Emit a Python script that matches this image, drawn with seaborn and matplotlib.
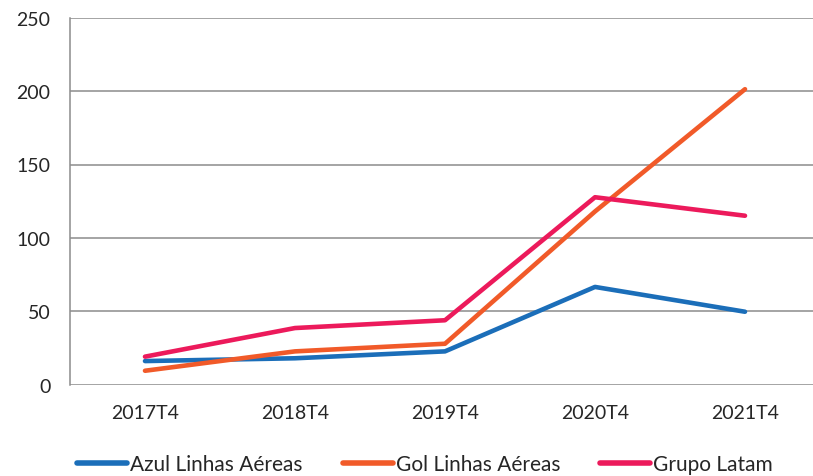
import matplotlib
matplotlib.use("Agg")
import matplotlib.pyplot as plt
import seaborn as sns
import pandas as pd

periods = ["2017T4", "2018T4", "2019T4", "2020T4", "2021T4"]
azul = [16.1, 18.0, 22.7, 66.6, 49.7]
gol = [9.5, 22.7, 27.9, 118.0, 201.3]
latam = [19.1, 38.6, 43.9, 127.7, 115.1]
series_names = ["Azul Linhas Aéreas", "Gol Linhas Aéreas", "Grupo Latam"]
colors = ["#1B6EB9", "#F15A29", "#EC1A5B"]

sns.set_style("white")
plt.rcParams["font.family"] = ["Lato", "DejaVu Sans"]

rows = []
for name, vals in zip(series_names, [azul, gol, latam]):
    for i, (p, v) in enumerate(zip(periods, vals)):
        rows.append({"pos": i, "period": p, "value": v, "series": name})
df = pd.DataFrame(rows)

fig = plt.figure(figsize=(8.13, 4.77), dpi=100)
ax = fig.add_axes([70 / 813, 91.3 / 477, 750 / 813, 367 / 477])

sns.lineplot(data=df, x="pos", y="value", hue="series", hue_order=series_names,
             palette=colors, linewidth=3.3, ax=ax, legend=True)
for ln in ax.get_lines():
    ln.set_solid_capstyle("round")

ax.set_xlim(-0.5, 4.5)
ax.set_ylim(0, 250)
ax.set_yticks([0, 50, 100, 150, 200, 250])
ax.yaxis.grid(True, color="#8c8c8c", linewidth=1.1)
ax.set_axisbelow(True)
ax.set_xticks(range(len(periods)))
ax.set_xticklabels(periods, fontsize=14)
ax.set_xticks([-0.5, 0.5, 1.5, 2.5, 3.5, 4.5], minor=True)
ax.tick_params(axis="x", which="major", length=0, pad=14)
ax.tick_params(axis="x", which="minor", length=7, color="#8c8c8c", width=1.1)
ax.tick_params(axis="y", length=7, color="#8c8c8c", width=1.1, labelsize=14, pad=7)
for s in ["top", "right", "bottom"]:
    ax.spines[s].set_visible(False)
ax.spines["left"].set_color("#8c8c8c")
ax.spines["left"].set_linewidth(1.1)
ax.set_xlabel("")
ax.set_ylabel("")

handles, labels = ax.get_legend_handles_labels()
for h in handles:
    h.set_linewidth(4)
ax.legend(handles, labels, loc="center", bbox_to_anchor=(425 / 813, 12 / 477),
          bbox_transform=fig.transFigure, ncol=3, frameon=False, fontsize=15,
          handlelength=2.4, handletextpad=0.15, columnspacing=1.9)

fig.savefig("out.png", dpi=100)
